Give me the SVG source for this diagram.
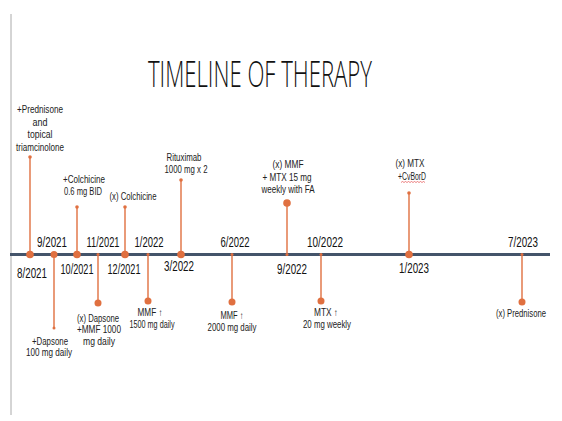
<svg xmlns="http://www.w3.org/2000/svg" width="562" height="421" viewBox="0 0 562 421">
<style>
.bg{fill:#ffffff}
.title{font-family:"Open Sans","Liberation Sans",sans-serif;font-weight:300;font-size:36px;fill:#111;text-anchor:middle}
.date{font-family:"Liberation Sans",Arial,sans-serif;font-size:15px;fill:#111;text-anchor:middle}
.lbl{font-family:"Liberation Sans",Arial,sans-serif;font-size:10px;fill:#222;text-anchor:middle}
.stem{stroke:#E07040;stroke-width:1.4;fill:none}
.big{fill:#E07040}
.small{fill:#E07040}
.axis{stroke:#44546A;stroke-width:3}
</style>
<rect class="bg" x="0" y="0" width="562" height="421"/>
<line x1="11" y1="14" x2="11" y2="415" stroke="#aaaaaa" stroke-width="1"/>
<text class="title" x="260" y="87" textLength="224" lengthAdjust="spacingAndGlyphs">TIMELINE OF THERAPY</text>

<g id="connectors">
<line class="stem" x1="30" y1="157" x2="30" y2="254"/>
<line class="stem" x1="54" y1="254" x2="54" y2="328"/>
<line class="stem" x1="77" y1="207" x2="77" y2="254"/>
<line class="stem" x1="98" y1="254" x2="98" y2="303"/>
<line class="stem" x1="125" y1="207" x2="125" y2="254"/>
<line class="stem" x1="148" y1="254" x2="148" y2="301"/>
<line class="stem" x1="181" y1="180" x2="181" y2="254"/>
<line class="stem" x1="232" y1="254" x2="232" y2="302"/>
<line class="stem" x1="287" y1="203" x2="287" y2="254"/>
<line class="stem" x1="321" y1="254" x2="321" y2="301"/>
<line class="stem" x1="409" y1="193" x2="409" y2="254"/>
<line class="stem" x1="522" y1="254" x2="522" y2="302"/>
</g>

<line id="axis" class="axis" x1="10" y1="254.5" x2="550" y2="254.5"/>

<g id="e-8-2021">
<circle class="big" cx="30" cy="254.5" r="3.8"/>
<circle class="small" cx="30" cy="157" r="1.8"/>
<text class="date" x="32" y="278" textLength="30" lengthAdjust="spacingAndGlyphs">8/2021</text>
<text class="lbl" x="40" y="113" textLength="46" lengthAdjust="spacingAndGlyphs">+Prednisone</text>
<text class="lbl" x="40" y="126" textLength="15" lengthAdjust="spacingAndGlyphs">and</text>
<text class="lbl" x="40" y="138" textLength="25" lengthAdjust="spacingAndGlyphs">topical</text>
<text class="lbl" x="40" y="151" textLength="48" lengthAdjust="spacingAndGlyphs">triamcinolone</text>
</g>

<g id="e-9-2021">
<circle class="big" cx="54" cy="254.5" r="3.5"/>
<circle class="small" cx="54" cy="328" r="1.5"/>
<text class="date" x="52" y="247" textLength="30" lengthAdjust="spacingAndGlyphs">9/2021</text>
<text class="lbl" x="50" y="345" textLength="36" lengthAdjust="spacingAndGlyphs">+Dapsone</text>
<text class="lbl" x="49" y="356" textLength="46" lengthAdjust="spacingAndGlyphs">100 mg daily</text>
</g>

<g id="e-10-2021">
<circle class="big" cx="77" cy="254.5" r="3.8"/>
<circle class="small" cx="77" cy="207" r="1.8"/>
<text class="date" x="77" y="274" textLength="33" lengthAdjust="spacingAndGlyphs">10/2021</text>
<text class="lbl" x="84" y="183" textLength="42" lengthAdjust="spacingAndGlyphs">+Colchicine</text>
<text class="lbl" x="83" y="195" textLength="38" lengthAdjust="spacingAndGlyphs">0.6 mg BID</text>
</g>

<g id="e-11-2021">
<circle class="small" cx="98" cy="254.5" r="1.5"/>
<circle class="big" cx="98" cy="303" r="3.5"/>
<text class="date" x="103" y="247" textLength="33" lengthAdjust="spacingAndGlyphs">11/2021</text>
<text class="lbl" x="98" y="322" textLength="42" lengthAdjust="spacingAndGlyphs">(x) Dapsone</text>
<text class="lbl" x="99" y="333" textLength="44" lengthAdjust="spacingAndGlyphs">+MMF 1000</text>
<text class="lbl" x="99" y="345" textLength="32" lengthAdjust="spacingAndGlyphs">mg daily</text>
</g>

<g id="e-12-2021">
<circle class="big" cx="125" cy="254.5" r="3.8"/>
<circle class="small" cx="125" cy="207" r="1.8"/>
<text class="date" x="124" y="274" textLength="33" lengthAdjust="spacingAndGlyphs">12/2021</text>
<text class="lbl" x="133" y="200" textLength="47" lengthAdjust="spacingAndGlyphs">(x) Colchicine</text>
</g>

<g id="e-1-2022">
<circle class="small" cx="148" cy="254.5" r="1.5"/>
<circle class="big" cx="148" cy="301" r="3.5"/>
<text class="date" x="149" y="247" textLength="29" lengthAdjust="spacingAndGlyphs">1/2022</text>
<text class="lbl" x="150" y="316" textLength="25" lengthAdjust="spacingAndGlyphs">MMF ↑</text>
<text class="lbl" x="152" y="328" textLength="45" lengthAdjust="spacingAndGlyphs">1500 mg daily</text>
</g>

<g id="e-3-2022">
<circle class="big" cx="181" cy="254.5" r="3.8"/>
<circle class="small" cx="181" cy="180" r="1.8"/>
<text class="date" x="179" y="271" textLength="30" lengthAdjust="spacingAndGlyphs">3/2022</text>
<text class="lbl" x="184" y="161" textLength="35" lengthAdjust="spacingAndGlyphs">Rituximab</text>
<text class="lbl" x="186" y="173" textLength="43" lengthAdjust="spacingAndGlyphs">1000 mg x 2</text>
</g>

<g id="e-6-2022">
<circle class="small" cx="232" cy="254.5" r="1.5"/>
<circle class="big" cx="232" cy="302" r="3.5"/>
<text class="date" x="235" y="247" textLength="29" lengthAdjust="spacingAndGlyphs">6/2022</text>
<text class="lbl" x="232" y="319" textLength="23" lengthAdjust="spacingAndGlyphs">MMF ↑</text>
<text class="lbl" x="232" y="331" textLength="49" lengthAdjust="spacingAndGlyphs">2000 mg daily</text>
</g>

<g id="e-9-2022">
<circle class="small" cx="287" cy="254.5" r="1.5"/>
<circle class="big" cx="287" cy="203" r="3.8"/>
<text class="date" x="292" y="274" textLength="30" lengthAdjust="spacingAndGlyphs">9/2022</text>
<text class="lbl" x="288" y="168" textLength="31" lengthAdjust="spacingAndGlyphs">(x)  MMF</text>
<text class="lbl" x="287" y="181" textLength="49" lengthAdjust="spacingAndGlyphs">+ MTX 15 mg</text>
<text class="lbl" x="288" y="193" textLength="53" lengthAdjust="spacingAndGlyphs">weekly with FA</text>
</g>

<g id="e-10-2022">
<circle class="small" cx="321" cy="254.5" r="1.5"/>
<circle class="big" cx="321" cy="301" r="3.5"/>
<text class="date" x="325" y="247" textLength="36" lengthAdjust="spacingAndGlyphs">10/2022</text>
<text class="lbl" x="326" y="316" textLength="24" lengthAdjust="spacingAndGlyphs">MTX ↑</text>
<text class="lbl" x="327" y="328" textLength="48" lengthAdjust="spacingAndGlyphs">20 mg weekly</text>
</g>

<g id="e-1-2023">
<circle class="big" cx="409" cy="254.5" r="3.8"/>
<circle class="small" cx="409" cy="193" r="1.8"/>
<text class="date" x="414" y="273" textLength="30" lengthAdjust="spacingAndGlyphs">1/2023</text>
<text class="lbl" x="410" y="167" textLength="29" lengthAdjust="spacingAndGlyphs">(x)  MTX</text>
<text class="lbl" x="412" y="180" textLength="28" lengthAdjust="spacingAndGlyphs">+CvBorD</text>
<path d="M401 182.5 l1.5 -1 l1.5 1 l1.5 -1 l1.5 1 l1.5 -1 l1.5 1 l1.5 -1 l1.5 1 l1.5 -1 l1.5 1 l1.5 -1 l1.5 1 l1.5 -1 l1.5 1 l1.5 -1 l1.5 1" fill="none" stroke="#e03030" stroke-width="0.6"/>
</g>

<g id="e-7-2023">
<circle class="small" cx="522" cy="254.5" r="1.5"/>
<circle class="big" cx="522" cy="302" r="3.5"/>
<text class="date" x="523" y="247" textLength="30" lengthAdjust="spacingAndGlyphs">7/2023</text>
<text class="lbl" x="521" y="317" textLength="50" lengthAdjust="spacingAndGlyphs">(x) Prednisone</text>
</g>
</svg>
